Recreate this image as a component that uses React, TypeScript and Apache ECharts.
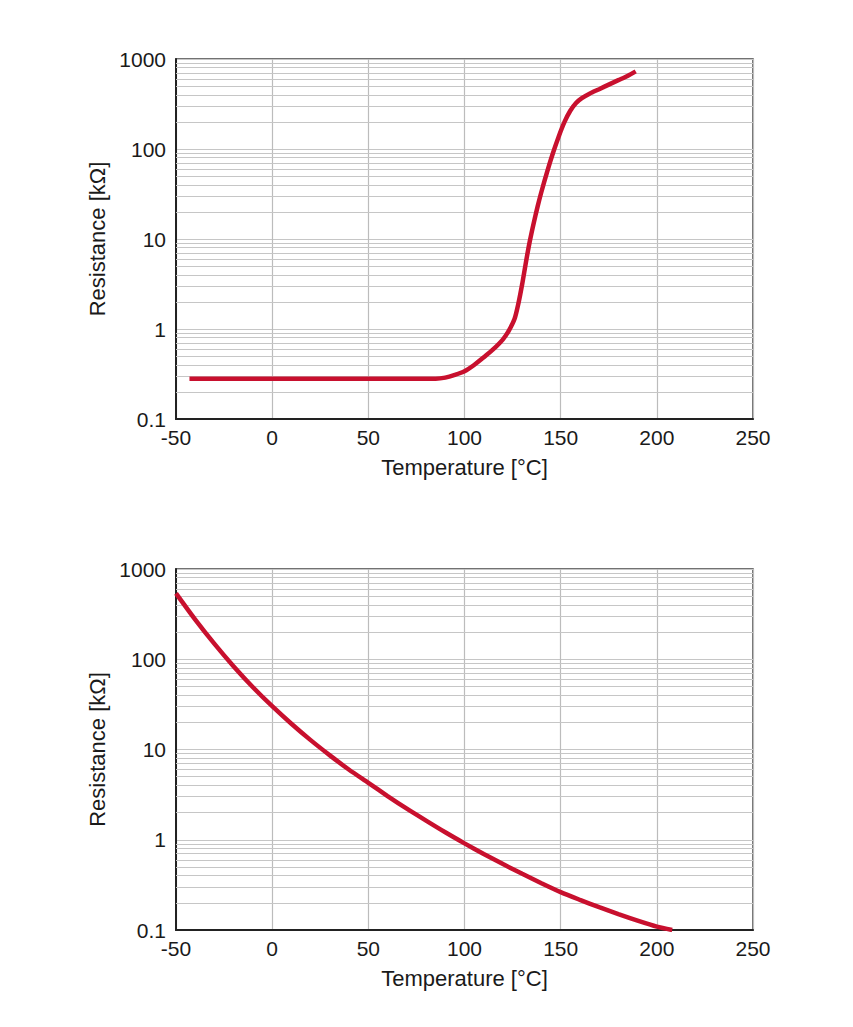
import React, { useEffect, useRef } from "react";
import * as echarts from "echarts";

// PTC thermistor (top chart): temperature [°C] vs resistance [kΩ]
const ptcTemps = [-43, 0, 50, 85, 90, 95, 100, 105, 110, 115, 120, 123, 126, 128, 130, 132, 134, 136, 138, 140, 143, 146, 149, 152, 155, 158, 161, 165, 170, 175, 180, 185, 189];
const ptcValues = [0.28, 0.28, 0.28, 0.28, 0.288, 0.309, 0.339, 0.398, 0.484, 0.596, 0.767, 0.955, 1.29, 1.91, 3.16, 5.62, 9.55, 15.1, 22.9, 33.5, 56.2, 90.2, 138, 200, 266, 324, 367, 412, 462, 519, 582, 653, 728];

// NTC thermistor (bottom chart)
const ntcTemps = [-50, -40, -30, -20, -10, 0, 10, 20, 30, 40, 50, 60, 70, 80, 90, 100, 110, 120, 130, 140, 150, 160, 170, 180, 190, 200, 208];
const ntcValues = [537, 275, 148, 83.2, 49.0, 30.2, 19.3, 12.7, 8.61, 5.96, 4.27, 3.05, 2.21, 1.63, 1.21, 0.912, 0.695, 0.537, 0.419, 0.33, 0.263, 0.216, 0.179, 0.15, 0.127, 0.109, 0.1];

const xTicks = { min: -50, max: 250, interval: 50 };
const yRange = { min: 0.1, max: 1000 };
const minorMultipliers = [2, 3, 4, 5, 6, 7, 8, 9];
const decades = [0.1, 1, 10, 100];

const xName = "Temperature [°C]";
const yName = "Resistance [kΩ]";

const FONT = "'Liberation Sans', Arial, Helvetica, sans-serif";
const RED = "#c8102e";
const GRID_COLOR = "#c6c6c6";
const TEXT = "#1a1a1a";

function minorValues(): number[] {
  const out: number[] = [];
  decades.forEach((d) => minorMultipliers.forEach((m) => out.push(+(d * m).toPrecision(3))));
  return out;
}

export default function App() {
  const ref = useRef<HTMLDivElement>(null);
  useEffect(() => {
    if (!ref.current) return;
    const chart = echarts.init(ref.current, undefined, { renderer: "svg" });
    const grids = [
      { left: 176, top: 59, width: 577, height: 360 },
      { left: 176, top: 569, width: 577, height: 361 },
    ];
    const xAxes = grids.map((_, i) => ({
      type: "value",
      gridIndex: i,
      min: xTicks.min,
      max: xTicks.max,
      interval: xTicks.interval,
      name: xName,
      nameLocation: "middle",
      nameGap: 37,
      nameTextStyle: { fontFamily: FONT, fontSize: 22, color: TEXT },
      axisLine: { show: true, onZero: false, lineStyle: { color: "#222", width: 2 } },
      axisTick: { show: false },
      axisLabel: { fontFamily: FONT, fontSize: 21, color: TEXT, margin: 8 },
      splitLine: { show: true, lineStyle: { color: "#bcbcbc", width: 1.2 } },
    }));
    const yAxes = grids.map((_, i) => ({
      type: "log",
      logBase: 10,
      gridIndex: i,
      min: yRange.min,
      max: yRange.max,
      name: yName,
      nameLocation: "middle",
      nameGap: 53,
      nameTextStyle: { fontFamily: FONT, fontSize: 22, color: TEXT },
      axisLine: { show: true, onZero: false, lineStyle: { color: "#222", width: 2 } },
      axisTick: { show: false },
      axisLabel: {
        fontFamily: FONT,
        fontSize: 21,
        color: TEXT,
        margin: 10,
        formatter: (v: number) => (v < 1 ? v.toFixed(1) : String(Math.round(v))),
      },
      splitLine: { show: true, lineStyle: { color: GRID_COLOR, width: 1.2 } },
    }));
    const minor = minorValues();
    const gridSeries = grids.map((_, i) => ({
      type: "line",
      xAxisIndex: i,
      yAxisIndex: i,
      data: [],
      z: 1,
      silent: true,
      markLine: {
        silent: true,
        symbol: ["none", "none"],
        label: { show: false },
        lineStyle: { color: GRID_COLOR, type: "solid", width: 1.2 },
        data: minor.map((v) => ({ yAxis: v })),
      },
    }));
    const curve = (i: number, xs: number[], ys: number[]) => ({
      type: "line",
      xAxisIndex: i,
      yAxisIndex: i,
      z: 5,
      data: xs.map((t, k) => [t, ys[k]]),
      showSymbol: false,
      smooth: 0.25,
      lineStyle: { color: RED, width: 4.5, cap: "butt" },
    });
    const option = {
      animation: false,
      grid: grids.map((g) => ({ ...g, show: true, borderColor: "#444", borderWidth: 1.5, backgroundColor: "#fff" })),
      xAxis: xAxes,
      yAxis: yAxes,
      series: [...gridSeries, curve(0, ptcTemps, ptcValues), curve(1, ntcTemps, ntcValues)],
    };
    chart.setOption(option as any);
    return () => chart.dispose();
  }, []);
  return (
    <div
      ref={ref}
      style={{ position: "fixed", left: 0, top: 0, width: 853, height: 1027, background: "#fff" }}
    />
  );
}
